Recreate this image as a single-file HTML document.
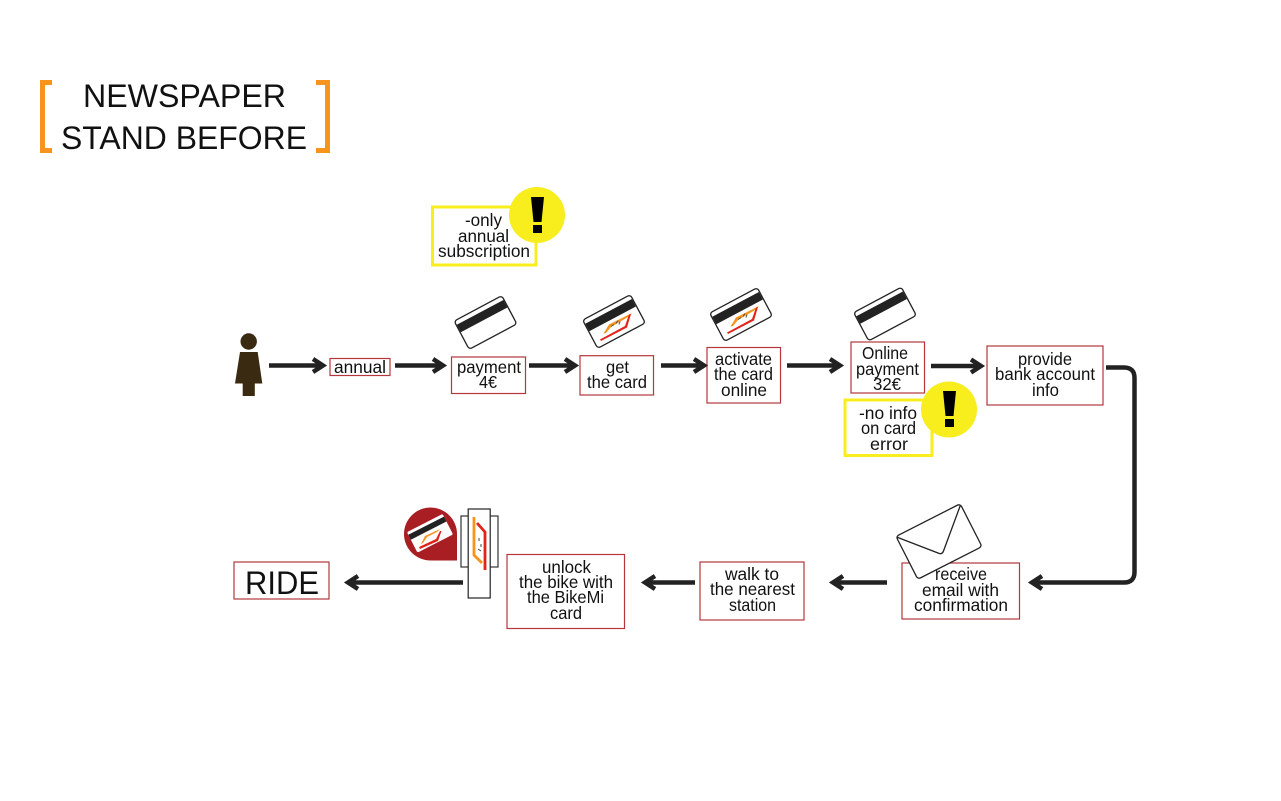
<!DOCTYPE html>
<html><head><meta charset="utf-8"><style>
html,body{margin:0;padding:0;background:#fff;width:1281px;height:801px;overflow:hidden}
svg{display:block}
text{font-family:"Liberation Sans","DejaVu Sans",sans-serif;font-size:17.3px;fill:#111;text-anchor:start}
.b{fill:#fff;stroke:#b5373c;stroke-width:1.2}
.y{fill:#fff;stroke:#f8ee1e;stroke-width:3}
.a path{fill:none;stroke:#222;stroke-width:4.5}
</style></head><body>
<svg width="1281" height="801" viewBox="0 0 1281 801" xmlns="http://www.w3.org/2000/svg">
<defs>
<g id="cardbase">
  <rect x="-27" y="-16" width="54" height="32" rx="3" fill="#fff" stroke="#222" stroke-width="1.3"/>
  <rect x="-26.4" y="-11.5" width="52.8" height="8.5" fill="#222"/>
</g>
<g id="logo">
  <path d="M-10.5 12L-5 3L18-8.5L15-5L-3 5.5L-8 11.5Z" fill="#f7941e"/>
  <path d="M-14 18L11 4.5L15-7L17-7.5L13 6L-13 19.5Z" fill="#e2231a"/>
  <path d="M-3 5l3-2M2 2l2-3M5 3l1-3" stroke="#555" stroke-width="1" fill="none"/>
</g>
</defs>

<!-- title -->
<path d="M52 82.5H42.5V150.5H52" fill="none" stroke="#f7941e" stroke-width="5"/>
<path d="M316 82.5H327.5V150.5H316" fill="none" stroke="#f7941e" stroke-width="5"/>
<text x="83" y="107" style="font-size:32px" textLength="203" lengthAdjust="spacingAndGlyphs">NEWSPAPER</text>
<text x="61" y="149" style="font-size:32px" textLength="246" lengthAdjust="spacingAndGlyphs">STAND BEFORE</text>

<!-- person -->
<g fill="#3a2a12">
  <circle cx="248.7" cy="341.5" r="8.2"/>
  <path d="M240 352H257.7L262.3 383.5H254.8V396H242.7V383.5H235Z"/>
</g>

<!-- top row boxes -->
<rect class="b" x="330" y="358.5" width="60" height="17"/>
<rect class="b" x="451.5" y="357" width="74" height="36.5"/>
<rect class="b" x="580" y="355.7" width="73.5" height="39.3"/>
<rect class="b" x="707" y="347.5" width="73.5" height="55.5"/>
<rect class="b" x="851" y="342" width="73.5" height="51"/>
<rect class="b" x="987" y="346" width="116" height="59"/>

<!-- bottom row boxes -->
<rect class="b" x="902" y="563" width="117.5" height="56"/>
<rect class="b" x="700" y="562" width="104" height="58"/>
<rect class="b" x="507" y="554.5" width="117.5" height="74"/>
<rect class="b" x="234" y="562" width="95" height="37"/>

<!-- arrows -->
<g class="a">
  <path d="M269 365.5H322M313 359L323 365.5L313 372"/>
  <path d="M395 365.5H442M433 359L443 365.5L433 372"/>
  <path d="M529 365.5H574M565 359L575 365.5L565 372"/>
  <path d="M661 365.5H703M694 359L704 365.5L694 372"/>
  <path d="M787 365.5H839M830 359L840 365.5L830 372"/>
  <path d="M931 366H980M971 359.5L981 366L971 372.5"/>
  <path d="M1106 367.5H1124Q1134.5 367.5 1134.5 378V572Q1134.5 582.5 1124 582.5H1033M1042 576L1032 582.5L1042 589"/>
  <path d="M887 582.5H834M843 576L833 582.5L843 589"/>
  <path d="M695 582.5H646M655 576L645 582.5L655 589"/>
  <path d="M463 582.5H349M358 576L348 582.5L358 589"/>
</g>

<!-- cards -->
<g transform="translate(485.5,322.5)"><use href="#cardbase" transform="rotate(-28)"/></g>
<g transform="translate(614,321.5)"><use href="#cardbase" transform="rotate(-28)"/><use href="#logo"/></g>
<g transform="translate(741,314.5)"><use href="#cardbase" transform="rotate(-28)"/><use href="#logo"/></g>
<g transform="translate(885,314)"><use href="#cardbase" transform="rotate(-28)"/></g>

<!-- warning 1 -->
<rect class="y" x="432.5" y="207" width="103.5" height="58"/>
<circle cx="537" cy="215" r="28" fill="#f8ee1e"/>
<path d="M531 197H544L541.5 222H533.5Z" fill="#000"/>
<rect x="533" y="225" width="9" height="8" fill="#000"/>

<!-- warning 2 -->
<rect class="y" x="845" y="400" width="87" height="55.5"/>
<circle cx="949" cy="409.5" r="28" fill="#f8ee1e"/>
<path d="M943 391H956L953.5 416H945.5Z" fill="#000"/>
<rect x="945" y="419" width="9" height="8" fill="#000"/>

<!-- envelope -->
<rect x="-36" y="-24" width="72" height="48" rx="3" transform="translate(939,541.5) rotate(-27)" fill="#fff" stroke="#222" stroke-width="1.3"/>
<path d="M896.5 537L938 553Q942 555 943.5 551L960.5 505" fill="none" stroke="#222" stroke-width="1.3"/>

<!-- pin with card -->
<path d="M457 560.5H431A26.5 26.5 0 1 1 457 534Z" fill="#a91e22"/>
<g transform="translate(430,533.3) rotate(-27)">
  <rect x="-20" y="-11.5" width="40" height="23" rx="1.5" fill="#fff"/>
  <rect x="-20" y="-8.5" width="40" height="5.5" fill="#222"/>
</g>
<path d="M421 544L425 536L440 529L437 532L427 537L423 543Z" fill="#f7941e"/>
<path d="M419 547L436 539L440 531L441.5 531L438 541L420 549Z" fill="#e2231a"/>

<!-- reader -->
<rect x="461" y="516" width="37" height="51" fill="#fff" stroke="#333" stroke-width="1.2"/>
<rect x="468.2" y="509" width="22" height="89" fill="#fff" stroke="#222" stroke-width="1.2"/>
<path d="M474 517V555L482 563" fill="none" stroke="#f7941e" stroke-width="2.8"/>
<path d="M477 523L485 532V570" fill="none" stroke="#e2231a" stroke-width="2.8"/>
<path d="M479 538v3M481 544v3M478 549l3 2" stroke="#444" stroke-width="1" fill="none"/>

<!-- labels -->
<text x="334" y="373" textLength="52" lengthAdjust="spacingAndGlyphs">annual</text>
<text x="457" y="373" textLength="64" lengthAdjust="spacingAndGlyphs">payment</text>
<text x="479" y="388" textLength="18" lengthAdjust="spacingAndGlyphs">4€</text>
<text x="606" y="373" textLength="23" lengthAdjust="spacingAndGlyphs">get</text>
<text x="587" y="388" textLength="60" lengthAdjust="spacingAndGlyphs">the card</text>
<text x="715" y="365" textLength="57" lengthAdjust="spacingAndGlyphs">activate</text>
<text x="714" y="380" textLength="59" lengthAdjust="spacingAndGlyphs">the card</text>
<text x="721" y="396" textLength="46" lengthAdjust="spacingAndGlyphs">online</text>
<text x="862" y="359" textLength="46" lengthAdjust="spacingAndGlyphs">Online</text>
<text x="856" y="375" textLength="63" lengthAdjust="spacingAndGlyphs">payment</text>
<text x="873" y="390" textLength="28" lengthAdjust="spacingAndGlyphs">32€</text>
<text x="1018" y="365" textLength="54" lengthAdjust="spacingAndGlyphs">provide</text>
<text x="995" y="380" textLength="100" lengthAdjust="spacingAndGlyphs">bank account</text>
<text x="1032" y="396" textLength="27" lengthAdjust="spacingAndGlyphs">info</text>
<text x="465" y="226" textLength="37" lengthAdjust="spacingAndGlyphs">-only</text>
<text x="458" y="242" textLength="51" lengthAdjust="spacingAndGlyphs">annual</text>
<text x="438" y="257" textLength="92" lengthAdjust="spacingAndGlyphs">subscription</text>
<text x="859" y="419" textLength="58" lengthAdjust="spacingAndGlyphs">-no info</text>
<text x="861" y="434" textLength="55" lengthAdjust="spacingAndGlyphs">on card</text>
<text x="870" y="450" textLength="38" lengthAdjust="spacingAndGlyphs">error</text>
<text x="935" y="580" textLength="52" lengthAdjust="spacingAndGlyphs">receive</text>
<text x="922" y="596" textLength="77" lengthAdjust="spacingAndGlyphs">email with</text>
<text x="914" y="611" textLength="94" lengthAdjust="spacingAndGlyphs">confirmation</text>
<text x="725" y="580" textLength="54" lengthAdjust="spacingAndGlyphs">walk to</text>
<text x="710" y="595" textLength="85" lengthAdjust="spacingAndGlyphs">the nearest</text>
<text x="729" y="611" textLength="47" lengthAdjust="spacingAndGlyphs">station</text>
<text x="542" y="573" textLength="49" lengthAdjust="spacingAndGlyphs">unlock</text>
<text x="519" y="588" textLength="94" lengthAdjust="spacingAndGlyphs">the bike with</text>
<text x="527" y="603" textLength="77" lengthAdjust="spacingAndGlyphs">the BikeMi</text>
<text x="550" y="619" textLength="32" lengthAdjust="spacingAndGlyphs">card</text>
<text x="245" y="594" style="font-size:32px" textLength="74" lengthAdjust="spacingAndGlyphs">RIDE</text>
</svg>
</body></html>
